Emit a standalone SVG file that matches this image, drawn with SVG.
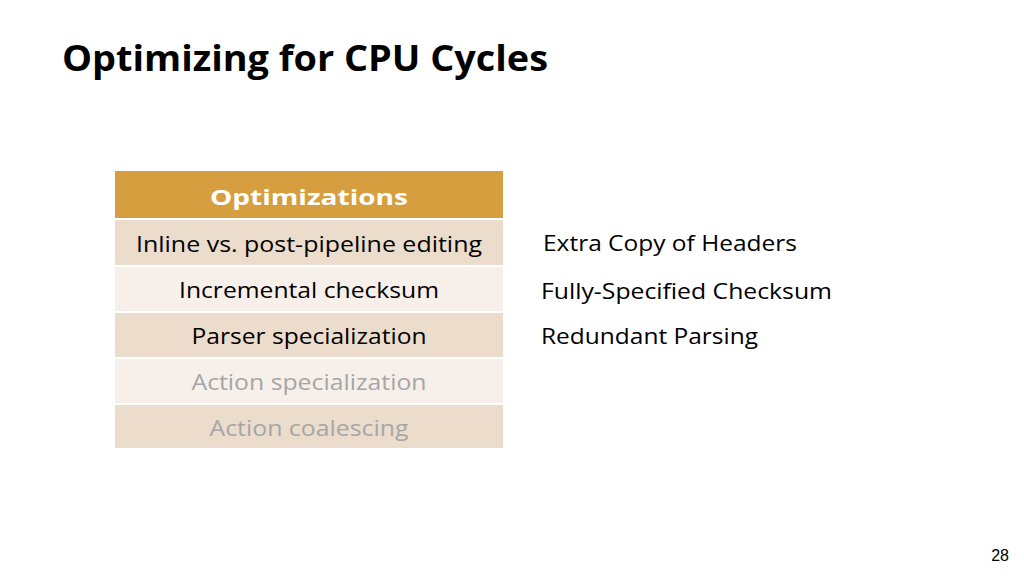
<svg xmlns="http://www.w3.org/2000/svg" width="1024" height="576" viewBox="0 0 1024 576">
<style>
text{font-family:"Open Sans","Noto Sans",sans-serif}
.c{text-anchor:middle;font-size:22px}
.k{fill:#000}
.g{fill:#a6a6a6}
.r{font-size:22px;fill:#000}
</style>
<rect width="1024" height="576" fill="#fff"/>
<text x="62" y="71" font-size="36" font-weight="bold" fill="#000" textLength="486" lengthAdjust="spacingAndGlyphs">Optimizing for CPU Cycles</text>
<g id="table">
<rect x="115" y="171" width="388" height="47" fill="#d69e3e"/>
<text x="309" y="205" class="c" font-weight="bold" fill="#fff" font-size="26" textLength="198" lengthAdjust="spacingAndGlyphs">Optimizations</text>
<rect x="115" y="220" width="388" height="45" fill="#ecdccb"/>
<text x="309" y="252" class="c k" textLength="346" lengthAdjust="spacingAndGlyphs">Inline vs. post-pipeline editing</text>
<rect x="115" y="267" width="388" height="44" fill="#f7efea"/>
<text x="309" y="298" class="c k" textLength="260" lengthAdjust="spacingAndGlyphs">Incremental checksum</text>
<rect x="115" y="313" width="388" height="44" fill="#ecdccb"/>
<text x="309" y="344" class="c k" textLength="235" lengthAdjust="spacingAndGlyphs">Parser specialization</text>
<rect x="115" y="359" width="388" height="44" fill="#f7efea"/>
<text x="309" y="390" class="c g" textLength="235" lengthAdjust="spacingAndGlyphs">Action specialization</text>
<rect x="115" y="405" width="388" height="43" fill="#ecdccb"/>
<text x="309" y="436" class="c g" textLength="199" lengthAdjust="spacingAndGlyphs">Action coalescing</text>
</g>
<g id="notes">
<text x="543" y="251" class="r" textLength="254" lengthAdjust="spacingAndGlyphs">Extra Copy of Headers</text>
<text x="541" y="299" class="r" textLength="291" lengthAdjust="spacingAndGlyphs">Fully-Specified Checksum</text>
<text x="541" y="344" class="r" textLength="217" lengthAdjust="spacingAndGlyphs">Redundant Parsing</text>
</g>
<text x="1009" y="561" font-size="16" text-anchor="end" fill="#000" style="font-family:'Liberation Sans',sans-serif">28</text>
</svg>
